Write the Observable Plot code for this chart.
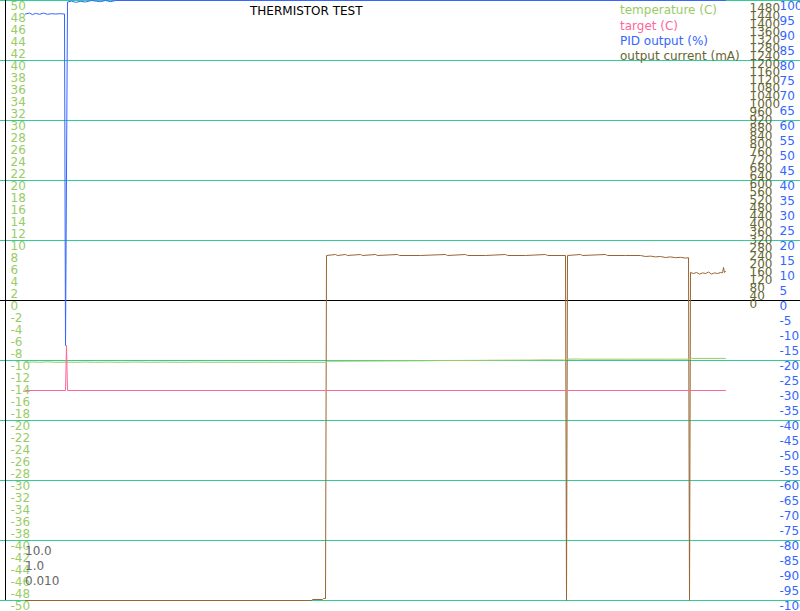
<!DOCTYPE html>
<html>
<head>
<meta charset="utf-8">
<script src="https://cdn.jsdelivr.net/npm/d3@7"></script>
<script src="https://cdn.jsdelivr.net/npm/@observablehq/plot@0.6"></script>
<style>
  html, body { margin: 0; padding: 0; background: #fff; overflow: hidden; }
  #wrap { position: relative; width: 800px; height: 611px; font-family: "DejaVu Sans", sans-serif; }
  #wrap svg { position: absolute; left: 0; top: 0; }
  .t { position: absolute; font-size: 12px; line-height: 14px; white-space: nowrap; font-family: "DejaVu Sans", sans-serif; }
</style>
</head>
<body>
<div id="wrap"></div>
<script>
// ---- data (time in s, values in native units) ----
const title = "THERMISTOR TEST";
const legendNames = ["temperature (C)", "target (C)", "PID output (%)", "output current (mA)"];
const pidGains = ["10.0", "1.0", "0.010"];

const tempTicks = d3.range(-50, 51, 2);      // left axis (C)
const gridLevels = [50, 40, 30, 20, 10, -10, -20, -30, -40, -50];
const zeroLevel = [0];
const currentTicks = d3.range(0, 1481, 40);  // mA axis
const pidTicks = d3.range(-100, 101, 5);     // % axis

const temperature = [
  [0,-10.3],[8,-10.25],[14,-10.3],[22,-10.22],[30,-10.3],[40,-10.28],[52,-10.3],[60,-10.25],
  [70,-10.3],[82,-10.27],[95,-10.3],[110,-10.25],[125,-10.3],[140,-10.27],[155,-10.3],[170,-10.26],
  [185,-10.3],[200,-10.28],[220,-10.3],[240,-10.28],[260,-10.3],[280,-10.28],[300,-10.3],
  [302,-10.12],[330,-10.1],[360,-10.08],[395,-10.05],[420,-10.0],[450,-9.98],[480,-9.95],
  [505,-9.93],[520,-9.9],[540,-9.92],[542,-9.78],[553,-9.75],[556,-9.78],[600,-9.78],[640,-9.78],
  [664,-9.78],[666,-9.65],[700,-9.65]
];
const target = [[0,-15],[40,-15],[41,-7.5],[42,-15],[700,-15]];
const pidOutput = [
  [0,95.5],[4,95.8],[7,95.3],[10,95.7],[14,95.4],[18,95.8],[22,95.4],[26,95.6],[30,95.5],
  [35,95.6],[39,95.5],[40,-15],[42,99.5],[46,99.8],[50,99.4],[55,99.7],[60,99.5],[66,100],
  [75,99.6],[80,100],[85,99.6],[90,100],[700,100]
];
const outputCurrent = [
  [0,-1500],[286,-1500],[287,-1495],[297,-1495],[298,-1490],[300,-1490],[301,225],[310,230],
  [312,225],[320,230],[322,225],[335,230],[337,225],[350,230],[352,225],[372,230],[374,225],
  [395,225],[420,230],[422,225],[440,230],[442,225],[460,225],[480,230],[482,225],[500,225],
  [520,230],[522,225],[540,225],[541,-1500],[542,225],[555,230],[557,225],[580,230],[582,225],
  [600,225],[615,225],[620,220],[625,222],[630,218],[635,220],[640,215],[645,218],[650,214],
  [655,216],[660,212],[663,214],[664,-1500],[665,140],[668,135],[671,140],[674,132],[677,138],
  [680,135],[683,142],[686,132],[689,138],[692,135],[695,140],[697,138],[698,165],[699,140],[700,145]
];

// ---- styles ----
const C = {
  grid: "#33cc99", temp: "#99cc66", target: "#ff6699", pid: "#3366ff",
  current: "#996633", currentText: "#666633", gains: "#666666"
};
const W = 800, H = 611;
const xDomain = [-20, 775];
const base = {
  width: W, height: H, marginLeft: 5, marginRight: 0, marginTop: 0, marginBottom: 11,
  x: {domain: xDomain, axis: null},
  style: {background: "transparent", fontFamily: "DejaVu Sans", fontSize: "12px", overflow: "visible"}
};
const wrap = document.getElementById("wrap");

// layer 1: grid, axis line, temperature labels
wrap.append(Plot.plot({...base,
  y: {domain: [-50, 50], axis: null},
  marks: [
    Plot.ruleY(gridLevels, {stroke: C.grid, strokeWidth: 1, insetLeft: -5}),
    Plot.ruleY(zeroLevel, {stroke: "#000", strokeWidth: 1, insetLeft: -5}),
    Plot.ruleX([xDomain[0]], {stroke: "#000", strokeWidth: 1}),
    Plot.text(tempTicks, {y: d => d, text: d => String(d), frameAnchor: "left", dx: 5, dy: 0.5,
      textAnchor: "start", lineAnchor: "top", fill: C.temp, fontSize: 12})
  ]
}));

// layer 2: PID output
wrap.append(Plot.plot({...base,
  y: {domain: [-100, 100], axis: null},
  marks: [
    Plot.line(pidOutput, {x: d => d[0], y: d => d[1], stroke: C.pid, strokeWidth: 1}),
    Plot.text(pidTicks, {y: d => d, text: d => String(d), frameAnchor: "right", dx: -21, dy: 0.5,
      textAnchor: "start", lineAnchor: "top", fill: C.pid, fontSize: 12})
  ]
}));

// layer 3: output current
wrap.append(Plot.plot({...base,
  y: {domain: [-1500, 1500], axis: null},
  marks: [
    Plot.line(outputCurrent, {x: d => d[0], y: d => d[1], stroke: C.current, strokeWidth: 1}),
    Plot.text(currentTicks, {y: d => d, text: d => String(d), frameAnchor: "right", dx: -51, dy: -1,
      textAnchor: "start", lineAnchor: "top", fill: C.currentText, fontSize: 12})
  ]
}));

// layer 4: temperature & target
wrap.append(Plot.plot({...base,
  y: {domain: [-50, 50], axis: null},
  marks: [
    Plot.line(temperature, {x: d => d[0], y: d => d[1], stroke: C.temp, strokeWidth: 1}),
    Plot.line(target, {x: d => d[0], y: d => d[1], stroke: C.target, strokeWidth: 1})
  ]
}));

// text: title, legend, gains
function addText(str, left, top, color) {
  const d = document.createElement("div");
  d.className = "t";
  d.textContent = str;
  d.style.left = left + "px";
  d.style.top = top + "px";
  d.style.color = color;
  wrap.append(d);
}
addText(title, 250, 3.9, "#000");
const legendColors = [C.temp, C.target, C.pid, C.currentText];
legendNames.forEach((n, i) => addText(n, 620, 3.4 + i * 15.3, legendColors[i]));
pidGains.forEach((g, i) => addText(g, 25, 543.9 + i * 15, C.gains));
</script>
</body>
</html>
